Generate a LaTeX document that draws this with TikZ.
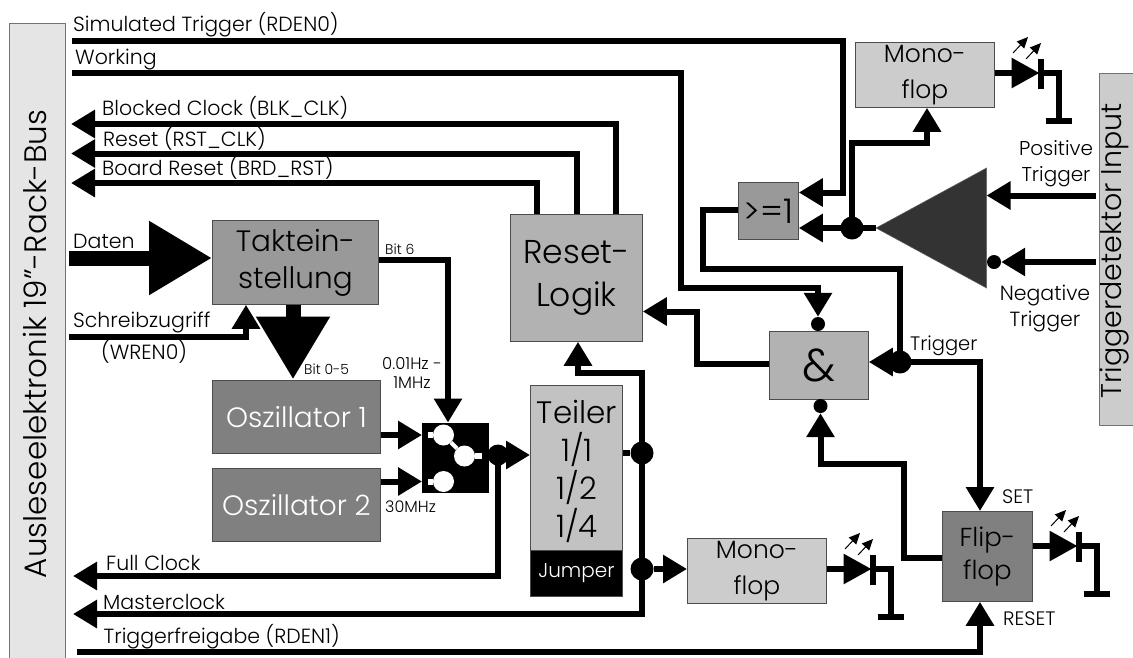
\documentclass[tikz,border=0pt]{standalone}
\usepackage{fontspec}
\setmainfont{Poppins Light}
\usetikzlibrary{arrows.meta}
\newcommand{\fs}[2]{\fontsize{#1}{#2}\selectfont}
\tikzset{
	>={Triangle[length=24pt,width=27pt]},
	wire/.style={line width=6pt},
	fatwire/.style={line width=15pt,>={Triangle[length=63pt,width=70pt]}},
	block/.style={draw=black!70,line width=0.8pt,inner sep=0pt,align=center,anchor=north west},
	lbl/.style={inner sep=0pt,anchor=base west,font=\fs{20.5}{20.5}},
	small/.style={inner sep=0pt,align=center,font=\fs{14}{19}},
	dot/.style={circle,fill=black,inner sep=0pt,minimum size=23pt},
	inv/.style={circle,fill=black,inner sep=0pt,minimum size=14pt},
	led/.style={line width=1pt,-{Triangle[length=11pt,width=10pt]}},
	gnd/.style={line width=6pt}
}
\begin{document}
\begin{tikzpicture}[x=1pt,y=-1pt]
	\useasboundingbox (0,0) rectangle (1133,657);
	
	% Bus bars
	\fill[fill=black!10,draw=black!55,line width=0.8pt] (9,23) rectangle (65,670);
	\fill[fill=black!20,draw=black!55,line width=0.8pt] (1099,73) rectangle (1145,425.5);
	\node[rotate=90,inner sep=0pt,font=\fs{31}{31}] (bus) at (35,344) {Ausleseelektronik 19”-Rack-Bus};
	\node[rotate=90,inner sep=0pt,font=\fs{28.5}{28.5}] (trginput) at (1115,251) {Triggerdetektor Input};
	
	% Blocks
	\node[block,fill=black!40,minimum width=166pt,minimum height=84pt,font=\fs{29.5}{37}] (takt) at (212,220) {Taktein-\\stellung};
	\node[block,fill=black!50,text=white,minimum width=168pt,minimum height=73pt,font=\fs{28}{28}] (osza) at (212,380) {Oszillator 1};
	\node[block,fill=black!50,text=white,minimum width=168pt,minimum height=73pt,font=\fs{28}{28}] (oszb) at (212,468) {Oszillator 2};
	\node[block,fill=black!30,minimum width=132pt,minimum height=127pt,font=\fs{33}{43}] (reset) at (510,214) {Reset-\\Logik};
	\node[block,fill=black!24,minimum width=92pt,minimum height=165pt,anchor=north west] (teiler) at (530,385) {};
	\node[block,fill=black,minimum width=92pt,minimum height=46pt,text=white,font=\fs{20}{20}] (jumper) at (530,550) {Jumper};
	\node[block,fill=black!20,minimum width=139pt,minimum height=65pt,font=\fs{25}{36}] (monoa) at (855,42) {Mono-\\flop};
	\node[block,fill=black!20,minimum width=139pt,minimum height=65pt,font=\fs{25}{36}] (monob) at (687,538) {Mono-\\flop};
	\node[block,fill=black!40,minimum width=60pt,minimum height=57pt,font=\fs{34}{34}] (orgate) at (738,182) {>=1};
	\node[block,fill=black!30,minimum width=99pt,minimum height=68pt,font=\fs{46}{46}] (andgate) at (769,331) {\&};
	\node[block,fill=black!50,minimum width=90pt,minimum height=90pt,font=\fs{26}{33}] (flipflop) at (942,511) {Flip-\\flop};
	
	% Teiler texts
	\node[inner sep=0pt,font=\fs{31}{31}] (tname) at (577,412) {Teiler};
	\foreach \y/\t in {449/1,487/2,525/4} {
		\node[inner sep=0pt,font=\fs{31}{31}] (t\t) at (577,\y) {1/\t};
	}
	
	% Comparator
	\fill[fill=black!80,draw=black!60,line width=0.5pt] (876,228) -- (986.5,168) -- (986.5,288) -- cycle;
	\coordinate (cmpout) at (876,228);
	\coordinate (cmppos) at (986.5,195.5);
	
	% Switch
	\node[block,fill=black,draw=none,minimum width=67pt,minimum height=70pt] (switch) at (422,422.5) {};
	\foreach \cx/\cy/\n in {443.5/435/a,464.5/456/b,443.5/481.5/c} {
		\node[circle,fill=white,inner sep=0pt,minimum size=21pt] (sw\n) at (\cx,\cy) {};
	}
	\draw[white,line width=4pt] (swa) -- (swb);
	\coordinate (tabb) at (482,456);
	\coordinate (taba) at (428,435);
	\coordinate (tabc) at (428,481.5);
	\draw[white,line width=6pt] (swa) -- (taba);
	\draw[white,line width=6pt] (swb) -- (tabb);
	\draw[white,line width=6pt] (swc) -- (tabc);
	
	% Junctions
	\node[dot] (jcmp) at (852,228) {};
	\node[dot] (jtrig) at (900,362) {};
	\node[dot] (jteiler) at (642,453) {};
	\node[dot] (jmono) at (642,569) {};
	\node[dot,minimum size=21pt] (jswitch) at (498,455) {};
	\node[inv] (invneg) at (994,262) {};
	\node[inv] (invwork) at (818,324) {};
	\node[inv] (invand) at (820.5,406) {};
	
	% Free line ends at the bus
	\foreach \n/\x/\y in {simin/72/41,workin/72/73,blkout/71/124,rstout/71/153.5,brdout/71/183,
		fullout/73/576,masterout/73/614,freein/77/652,datin/69/258,wrin/69/336.5,posin/1096/195.5,negin/1096/262} {
		\coordinate (\n) at (\x,\y);
	}
	
	% Outgoing and incoming signals
	\draw[wire,->] (simin) -| (843,192.5) -- (orgate.east |- 0,192.5);
	\draw[wire] (workin) -| (681,288) -| (invwork.north |- 0,292);
	\draw[wire,->] (invwork |- 0,290) -- (invwork.north);
	\draw[wire,->] (reset.north -| 615.5,0) |- (blkout);
	\draw[wire,->] (reset.north -| 576.5,0) |- (rstout);
	\draw[wire,->] (reset.north -| 537,0) |- (brdout);
	
	% Clock path
	\draw[fatwire,->] (datin) -- (takt.west |- datin);
	\draw[fatwire,->] (takt.south -| 293,0) -- (293,379.5);
	\draw[wire,->] (wrin) -| (takt.south -| 246,0);
	\draw[wire,->] (takt.east |- 0,260) -| (switch.north -| 448,0);
	\draw[wire,->] (osza.east |- taba) -- (switch.west |- taba);
	\draw[wire,->] (oszb.east |- tabc) -- (switch.west |- tabc);
	\draw[wire] (switch.east |- jswitch) -- (jswitch);
	\draw[wire,->] (jswitch.center) -- (teiler.west |- jswitch);
	\draw[wire,->] (jswitch.center) |- (fullout);
	
	% Teiler output
	\draw[wire] (teiler.east |- jteiler) -- (jteiler);
	\draw[wire,->] (jteiler.center) |- (578,373) -- (reset.south -| 578,0);
	\draw[wire,->] (jteiler.center) |- (masterout);
	\draw[wire,->] (jmono) -- (monob.west |- jmono);
	
	% Trigger logic
	\draw[wire,->] (posin) -- (cmppos);
	\draw[wire,->] (negin) -- (invneg.east);
	\draw[wire,->] (cmpout) -- (orgate.east |- cmpout);
	\draw[wire,->] (jcmp.center) |- (927,143) -- (monoa.south -| 927,0);
	\draw[wire] (orgate.west |- 0,210) -| (703,268.5) -| (jtrig.center);
	\draw[wire,->] (jtrig.center) -- (andgate.east |- jtrig);
	\draw[wire,->] (jtrig.center) -| (flipflop.north -| 980,0);
	\draw[wire,->] (andgate.west |- 0,364) -| (697,311.5) -- (reset.east |- 0,311.5);
	\draw[wire,->] (flipflop.west |- 0,557.5) -| (904,464) -| (invand.south);
	\draw[wire,->] (freein) -| (flipflop.south -| 980,0);
	
	% LEDs with ground
	\foreach \a/\xa/\ya in {monoa/994/73,monob/826/569,flipflop/1032/546} {
		\pgfmathsetmacro{\xb}{\xa+45.5}
		\pgfmathsetmacro{\xc}{\xa+47}
		\pgfmathsetmacro{\xd}{\xa+64.5}
		\pgfmathsetmacro{\yt}{\ya-14}
		\pgfmathsetmacro{\yb}{\ya+15.5}
		\pgfmathsetmacro{\yg}{\ya+47.5}
		\coordinate (\a led) at (\xb,\ya);
		\coordinate (\a bar) at (\xc,\ya);
		\coordinate (\a gnd) at (\xd,\yg);
		\draw[wire,>={Triangle[length=28pt,width=29pt]},->] (\a.east |- \a led) -- (\a led);
		\draw[wire] (\a bar) -| (\a gnd);
		\draw[wire] (\xc,\yt) -- (\xc,\yb);
		\draw[gnd] (\xd-13,\yg) -- (\xd+13,\yg);
		\draw[led] (\xa+19,\ya-20) -- (\xa+34,\ya-36);
		\draw[led] (\xa+32,\ya-14) -- (\xa+47,\ya-30);
	}
	
	% Signal names
	\node[lbl] (lsim) at (73,31.5) {Simulated Trigger (RDEN0)};
	\node[lbl] (lwork) at (75,64) {Working};
	\node[lbl] (lblk) at (102,115) {Blocked Clock (BLK\_CLK)};
	\node[lbl] (lrst) at (103,146) {Reset (RST\_CLK)};
	\node[lbl] (lbrd) at (102,175) {Board Reset (BRD\_RST)};
	\node[lbl] (ldat) at (73,248) {Daten};
	\node[lbl] (lwr) at (73,327) {Schreibzugriff};
	\node[lbl] (lwren) at (101,359) {(WREN0)};
	\node[lbl] (lfull) at (106,570.5) {Full Clock};
	\node[lbl] (lmaster) at (103,609) {Masterclock};
	\node[lbl] (lfrei) at (103.5,643) {Triggerfreigabe (RDEN1)};
	
	\node[small,anchor=base west] (lbitsix) at (385,254.5) {Bit 6};
	\node[small,anchor=base west] (lbitlow) at (304,374.5) {Bit 0-5};
	\node[small,font=\fs{16.5}{19}] (lfreq) at (412,372.5) {0.01Hz -\\1MHz};
	\node[small,anchor=base west,font=\fs{16}{16}] (lthirty) at (385,512.5) {30MHz};
	\node[inner sep=0pt,align=center,font=\fs{20}{26}] (lpos) at (1056,164) {Positive\\Trigger};
	\node[inner sep=0pt,align=center,font=\fs{20.5}{26}] (lneg) at (1045,309) {Negative\\Trigger};
	\node[lbl,font=\fs{19.5}{19.5}] (ltrig) at (910,350) {Trigger};
	\node[lbl,font=\fs{19.5}{19.5}] (lset) at (1002,503) {SET};
	\node[lbl,font=\fs{19.5}{19.5}] (lres) at (1003,625) {RESET};
\end{tikzpicture}
\end{document}
